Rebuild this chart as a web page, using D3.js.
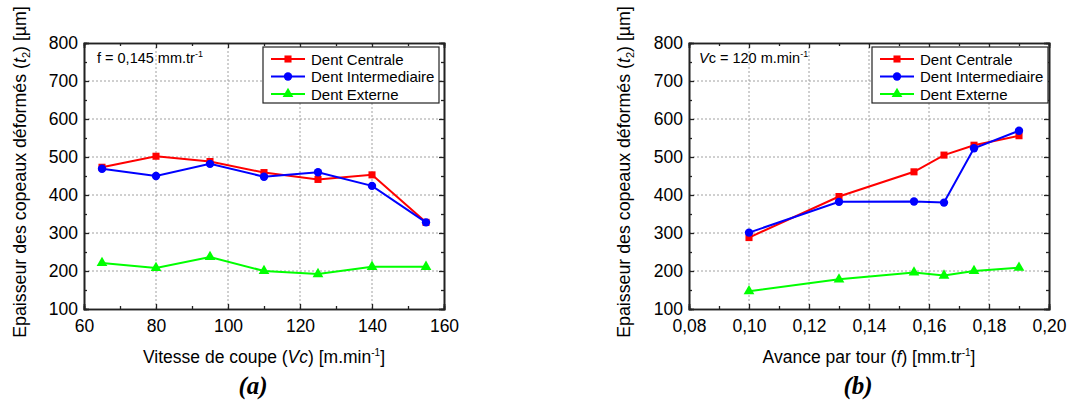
<!DOCTYPE html>
<html>
<head>
<meta charset="utf-8">
<script src="https://cdn.jsdelivr.net/npm/d3@7"></script>
<style>
  html, body { margin: 0; padding: 0; background: #fff; }
  svg { display: block; font-family: "Liberation Sans", Arial, sans-serif; }
</style>
</head>
<body>
<svg id="chart" width="1067" height="405"></svg>
<script>
// ---------- data ----------
const seriesNames = ["Dent Centrale", "Dent Intermediaire", "Dent Externe"];

// Panel (a): cutting speed Vc [m/min]
const vcValues = [65, 80, 95, 110, 125, 140, 155];
const vcCentrale = [473, 502, 488, 459, 441, 453, 328];
const vcIntermediaire = [469, 450, 482, 448, 460, 424, 328];
const vcExterne = [221, 208, 237, 200, 192, 211, 211];
const vcTicks = [60, 80, 100, 120, 140, 160];

// Panel (b): feed per revolution f [mm/tr]
const fValues = [0.10, 0.13, 0.155, 0.165, 0.175, 0.19];
const fCentrale = [288, 396, 461, 505, 531, 556];
const fIntermediaire = [301, 382, 383, 380, 523, 569];
const fExterne = [147, 178, 196, 188, 200, 209];
const fTicks = [0.08, 0.10, 0.12, 0.14, 0.16, 0.18, 0.20];

const yTicks = [100, 200, 300, 400, 500, 600, 700, 800];

// ---------- styles ----------
const colors = ["#ff0000", "#0000ff", "#00ff00"];
const markers = ["square", "circle", "triangle"];

const svg = d3.select("#chart");

function markerPath(type) {
  if (type === "square") return d3.symbol(d3.symbolSquare, 50)();
  if (type === "circle") return d3.symbol(d3.symbolCircle, 55)();
  return d3.symbol(d3.symbolTriangle, 50)();
}

function drawPanel(opt) {
  const left = opt.left, top = 43, w = 360, h = 266;
  const g = svg.append("g").attr("transform", `translate(${left},${top})`);
  const x = d3.scaleLinear().domain(opt.xDomain).range([0, w]);
  const y = d3.scaleLinear().domain([100, 800]).range([h, 0]);

  // grid
  const gridX = opt.xTicks.slice(1, -1);
  g.append("g").selectAll("line").data(gridX).join("line")
    .attr("x1", d => x(d)).attr("x2", d => x(d)).attr("y1", 0).attr("y2", h)
    .attr("stroke", "#a0a0a0").attr("stroke-width", 1).attr("stroke-dasharray", "2,2");
  g.append("g").selectAll("line").data(yTicks.slice(1, -1)).join("line")
    .attr("y1", d => y(d)).attr("y2", d => y(d)).attr("x1", 0).attr("x2", w)
    .attr("stroke", "#a0a0a0").attr("stroke-width", 1).attr("stroke-dasharray", "2,2");

  // minor ticks values
  const xMinor = d3.pairs(opt.xTicks).map(p => (p[0] + p[1]) / 2);
  const yMinor = d3.pairs(yTicks).map(p => (p[0] + p[1]) / 2);

  // axes
  const fmt = opt.fmt;
  const axB = d3.axisBottom(x).tickValues(opt.xTicks).tickSize(-5).tickPadding(11).tickFormat(fmt);
  const axL = d3.axisLeft(y).tickValues(yTicks).tickSize(-5).tickPadding(6);
  const axT = d3.axisTop(x).tickValues(opt.xTicks).tickSize(-5).tickFormat("");
  const axR = d3.axisRight(y).tickValues(yTicks).tickSize(-5).tickFormat("");
  const mB = d3.axisBottom(x).tickValues(xMinor).tickSize(-3).tickFormat("");
  const mT = d3.axisTop(x).tickValues(xMinor).tickSize(-3).tickFormat("");
  const mL = d3.axisLeft(y).tickValues(yMinor).tickSize(-3).tickFormat("");
  const mR = d3.axisRight(y).tickValues(yMinor).tickSize(-3).tickFormat("");

  function styleAxis(sel) {
    sel.select(".domain").attr("stroke", "#222").attr("stroke-width", 1.6);
    sel.selectAll(".tick line").attr("stroke", "#222").attr("stroke-width", 1.3);
    sel.selectAll(".tick text").attr("fill", "#000").attr("font-size", 17.5)
      .attr("font-family", "Liberation Sans, Arial, sans-serif");
  }
  [[mB, h], [mT, 0]].forEach(([a, ty]) => g.append("g").attr("transform", `translate(0,${ty})`).call(a).call(styleAxis));
  [[mL, 0], [mR, w]].forEach(([a, tx]) => g.append("g").attr("transform", `translate(${tx},0)`).call(a).call(styleAxis));
  g.append("g").attr("transform", `translate(0,0)`).call(axT).call(styleAxis);
  g.append("g").attr("transform", `translate(${w},0)`).call(axR).call(styleAxis);
  g.append("g").attr("transform", `translate(0,${h})`).call(axB).call(styleAxis);
  g.append("g").call(axL).call(styleAxis);

  // series
  opt.series.forEach((vals, i) => {
    const pts = opt.xValues.map((xv, j) => [xv, vals[j]]);
    g.append("path").datum(pts)
      .attr("fill", "none").attr("stroke", colors[i]).attr("stroke-width", 2)
      .attr("d", d3.line().x(d => x(d[0])).y(d => y(d[1])));
    g.append("g").selectAll("path").data(pts).join("path")
      .attr("transform", d => `translate(${x(d[0])},${y(d[1])})`)
      .attr("d", markerPath(markers[i])).attr("fill", colors[i]);
  });

  // legend
  const lg = g.append("g").attr("transform", `translate(${opt.legendX},4)`);
  lg.append("rect").attr("x", 0).attr("y", 0).attr("width", 176).attr("height", 56)
    .attr("fill", "#fff").attr("stroke", "#222").attr("stroke-width", 1.2);
  seriesNames.forEach((name, i) => {
    const ly = 12 + i * 17.5;
    lg.append("line").attr("x1", 8).attr("x2", 42).attr("y1", ly).attr("y2", ly)
      .attr("stroke", colors[i]).attr("stroke-width", 2);
    lg.append("path").attr("transform", `translate(25,${ly})`)
      .attr("d", markerPath(markers[i])).attr("fill", colors[i]);
    lg.append("text").attr("x", 48).attr("y", ly + 5.5).attr("font-size", 15)
      .attr("fill", "#000").text(name);
  });

  // annotation
  const an = g.append("text").attr("x", opt.annX).attr("y", 20).attr("font-size", 14.5).attr("fill", "#000");
  opt.annotation(an);

  // x title
  const xt = g.append("text").attr("x", w / 2).attr("y", h + 54).attr("text-anchor", "middle")
    .attr("font-size", 17.5).attr("fill", "#000");
  opt.xTitle(xt);

  // y title
  const yt = g.append("text")
    .attr("transform", `translate(${opt.yTitleX},${h / 2 - 4}) rotate(-90)`)
    .attr("text-anchor", "middle").attr("font-size", 17.8).attr("fill", "#000").attr("dy", "0.35em");
  yt.append("tspan").text("Epaisseur des copeaux déformés (");
  yt.append("tspan").attr("font-style", "italic").text("t");
  yt.append("tspan").attr("font-size", 11).attr("dy", 4).text("2");
  yt.append("tspan").attr("dy", -4).text(") [µm]");

  // panel label
  svg.append("text").attr("x", left + w / 2 - 11).attr("y", 394)
    .attr("text-anchor", "middle").attr("font-family", "Liberation Serif, Times New Roman, serif")
    .attr("font-weight", "bold").attr("font-style", "italic").attr("font-size", 25)
    .attr("fill", "#000").text(opt.label);
}

const commaFmt = d => d3.format(".2f")(d).replace(".", ",");

drawPanel({
  left: 84, xDomain: [60, 160], xTicks: vcTicks, fmt: d3.format("d"),
  xValues: vcValues, series: [vcCentrale, vcIntermediaire, vcExterne],
  legendX: 179, annX: 13, yTitleX: -64, label: "(a)",
  annotation: t => {
    t.append("tspan").text("f = 0,145 mm.tr");
    t.append("tspan").attr("font-size", 9).attr("dy", -6).text("-1");
  },
  xTitle: t => {
    t.append("tspan").text("Vitesse de coupe (");
    t.append("tspan").attr("font-style", "italic").text("Vc");
    t.append("tspan").text(") [m.min");
    t.append("tspan").attr("font-size", 10).attr("dy", -7).text("-1");
    t.append("tspan").attr("dy", 7).text("]");
  }
});

drawPanel({
  left: 689, xDomain: [0.08, 0.20], xTicks: fTicks, fmt: commaFmt,
  xValues: fValues, series: [fCentrale, fIntermediaire, fExterne],
  legendX: 183, annX: 10, yTitleX: -65, label: "(b)",
  annotation: t => {
    t.append("tspan").attr("font-style", "italic").text("V");
    t.append("tspan").text("c = 120 m.min");
    t.append("tspan").attr("font-size", 9).attr("dy", -6).text("-1");
  },
  xTitle: t => {
    t.append("tspan").text("Avance par tour (");
    t.append("tspan").attr("font-style", "italic").text("f");
    t.append("tspan").text(") [mm.tr");
    t.append("tspan").attr("font-size", 10).attr("dy", -7).text("-1");
    t.append("tspan").attr("dy", 7).text("]");
  }
});
</script>
</body>
</html>
